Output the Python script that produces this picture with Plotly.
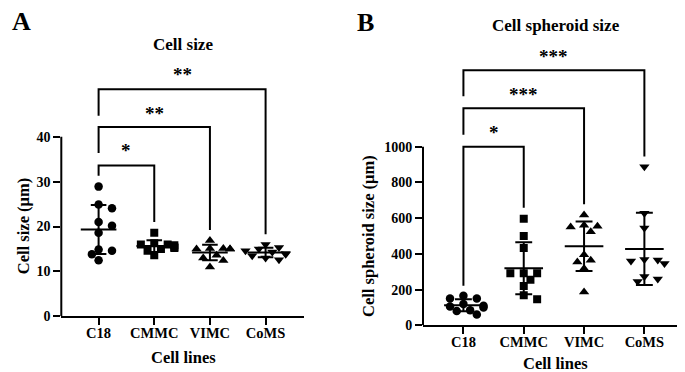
import plotly.graph_objects as go
import numpy as np

# ---------------- data ----------------
categories = ["C18", "CMMC", "VIMC", "CoMS"]

cell_size_C18 = [28.9, 24.9, 24.1, 21.0, 20.2, 18.6, 14.9, 14.6, 13.8, 12.5]
cell_size_CMMC = [18.6, 16.3, 16.0, 16.0, 15.8, 15.4, 15.2, 15.0, 14.6, 13.6]
cell_size_VIMC = [16.9, 15.1, 15.1, 15.0, 15.0, 15.0, 13.6, 13.0, 12.4, 11.0]
cell_size_CoMS = [16.0, 15.3, 15.0, 14.6, 14.3, 14.0, 13.8, 13.5, 13.0, 12.6]

spheroid_C18 = [165, 150, 150, 120, 110, 105, 100, 85, 80, 60]
spheroid_CMMC = [596, 500, 433, 291, 291, 291, 255, 220, 169, 146]
spheroid_VIMC = [618, 560, 555, 550, 524, 395, 364, 355, 318, 187]
spheroid_CoMS = [887, 627, 545, 369, 365, 360, 346, 273, 260, 245]

yticks_A = [0, 10, 20, 30, 40]
yticks_B = [0, 200, 400, 600, 800, 1000]

sig_A = ["*", "**", "**"]
sig_B = ["*", "***", "***"]

# ---------------- style / layout ----------------
W, H = 685, 372
FONT = "Liberation Serif"
symbols = ["circle", "square", "triangle-up", "triangle-down"]
msizes = [8.5, 8, 9, 9]

panels = [
    dict(xa="x", ya="y", data=[cell_size_C18, cell_size_CMMC, cell_size_VIMC, cell_size_CoMS],
         xdom_px=(53.3, 296), y0_px=315.0, ypx_per_unit=4.583, yrange=(0, 57), ytop=40,
         yticks=yticks_A,
         # (right group, bracket top, left-leg bottom, right-leg bottom, label y)
         brackets=[(1, 33.6, 31.3, 21.0, 36.9), (2, 42.2, 36.4, 19.2, 45.3), (3, 50.6, 44.7, 18.3, 53.8)],
         sig=sig_A),
    dict(xa="x2", ya="y2", data=[spheroid_C18, spheroid_CMMC, spheroid_VIMC, spheroid_CoMS],
         xdom_px=(415, 678), y0_px=324.3, ypx_per_unit=0.1826, yrange=(0, 1560), ytop=1000,
         yticks=yticks_B,
         brackets=[(1, 1000, 222, 658, 1080), (2, 1215, 1067, 678, 1292), (3, 1427, 1282, 945, 1505)],
         sig=sig_B),
]
XRANGE = (-0.67, 3.69)


def beeswarm(vals, ypx, xpx, dmin, step, kmax=3):
    """Spread points horizontally so markers do not overlap too much (pixel space)."""
    order = np.argsort(-np.asarray(vals, dtype=float), kind="stable")
    placed = []
    offs = np.zeros(len(vals))
    for i in order:
        y = vals[i] * ypx
        k = 0
        while True:
            cands = [0.0] if k == 0 else [k * step, -k * step]
            ok = None
            for c in cands:
                if all((c - px) ** 2 + (y - py) ** 2 >= dmin ** 2 for px, py in placed):
                    ok = c
                    break
            if ok is not None or k >= kmax:
                ok = ok if ok is not None else cands[0]
                offs[i] = ok / xpx
                placed.append((ok, y))
                break
            k += 1
    return offs


fig = go.Figure()
layout = dict(width=W, height=H, margin=dict(l=0, r=0, t=0, b=0),
              paper_bgcolor="white", plot_bgcolor="white", showlegend=False,
              font=dict(family=FONT, color="black"))
shapes = []
annotations = []

for pi, p in enumerate(panels):
    xa, ya = p["xa"], p["ya"]
    x0px, x1px = p["xdom_px"]
    xpx_per_unit = (x1px - x0px) / (XRANGE[1] - XRANGE[0])
    for gi, vals in enumerate(p["data"]):
        offs = beeswarm(vals, p["ypx_per_unit"], xpx_per_unit, 8.0, 6.7)
        fig.add_trace(go.Scatter(
            x=gi + offs, y=vals, mode="markers", xaxis=xa, yaxis=ya,
            marker=dict(symbol=symbols[gi], size=msizes[gi], color="black",
                        line=dict(width=0)),
            hoverinfo="skip"))
        m = float(np.mean(vals))
        s = float(np.std(vals, ddof=1))
        mw, cw = 0.32, 0.14
        xs = [gi - mw, gi + mw, None, gi, gi, None, gi - cw, gi + cw, None, gi - cw, gi + cw]
        ys = [m, m, None, m - s, m + s, None, m + s, m + s, None, m - s, m - s]
        fig.add_trace(go.Scatter(x=xs, y=ys, mode="lines", xaxis=xa, yaxis=ya,
                                 line=dict(color="black", width=2), hoverinfo="skip"))
    # significance brackets
    for (rg, top, lb, rb, ly), lab in zip(p["brackets"], p["sig"]):
        fig.add_trace(go.Scatter(x=[0, 0, rg, rg], y=[lb, top, top, rb], mode="lines",
                                 xaxis=xa, yaxis=ya, line=dict(color="black", width=2),
                                 hoverinfo="skip"))
        annotations.append(dict(x=rg / 2, y=ly, xref=xa, yref=ya, text="<b>" + lab + "</b>",
                                showarrow=False, font=dict(size=19, family=FONT),
                                xanchor="center", yanchor="middle"))
    # axes
    xdom = [x0px / W, x1px / W]
    ybot = (H - p["y0_px"]) / H
    ytop_px = p["y0_px"] - (p["yrange"][1] - p["yrange"][0]) * p["ypx_per_unit"]
    ydom = [ybot, (H - ytop_px) / H]
    axname_x = "xaxis" if xa == "x" else "xaxis2"
    axname_y = "yaxis" if ya == "y" else "yaxis2"
    layout[axname_x] = dict(domain=xdom, range=list(XRANGE), anchor=ya,
                            tickvals=list(range(len(categories))), ticktext=categories,
                            showline=True, linewidth=2, linecolor="black",
                            ticks="outside", ticklen=7, tickwidth=2, tickcolor="black",
                            showgrid=False, zeroline=False, ticklabelstandoff=-5,
                            tickfont=dict(size=14.5, family=FONT, weight="bold"))
    layout[axname_y] = dict(domain=ydom, range=list(p["yrange"]), anchor=xa,
                            tickvals=p["yticks"], showline=False,
                            ticks="outside", ticklen=7, tickwidth=2, tickcolor="black",
                            showgrid=False, zeroline=False,
                            tickfont=dict(size=14, family=FONT, weight="bold"))
    shapes.append(dict(type="line", xref=xa + " domain", yref=ya, x0=0, x1=0,
                       y0=p["yrange"][0], y1=p["ytop"], line=dict(color="black", width=2)))

# text labels
def ann(x, y, text, size, angle=0):
    annotations.append(dict(x=x / W, y=1 - y / H, xref="paper", yref="paper", text=text,
                            showarrow=False, textangle=angle, xanchor="center", yanchor="middle",
                            font=dict(size=size, family=FONT, color="black")))

ann(13, 14, "<b>A</b>", 26)
ann(357, 15, "<b>B</b>", 26)
ann(174.5, 37, "<b>Cell size</b>", 17)
ann(548, 18, "<b>Cell spheroid size</b>", 17)
ann(175, 357, "<b>Cell lines</b>", 16.5)
ann(547, 363, "<b>Cell lines</b>", 16.5)
ann(15, 223, "<b>Cell size (μm)</b>", 16.5, -90)
ann(361, 233, "<b>Cell spheroid size (μm)</b>", 16.5, -90)

layout["shapes"] = shapes
layout["annotations"] = annotations
fig.update_layout(**layout)
fig.write_html("out.html")
